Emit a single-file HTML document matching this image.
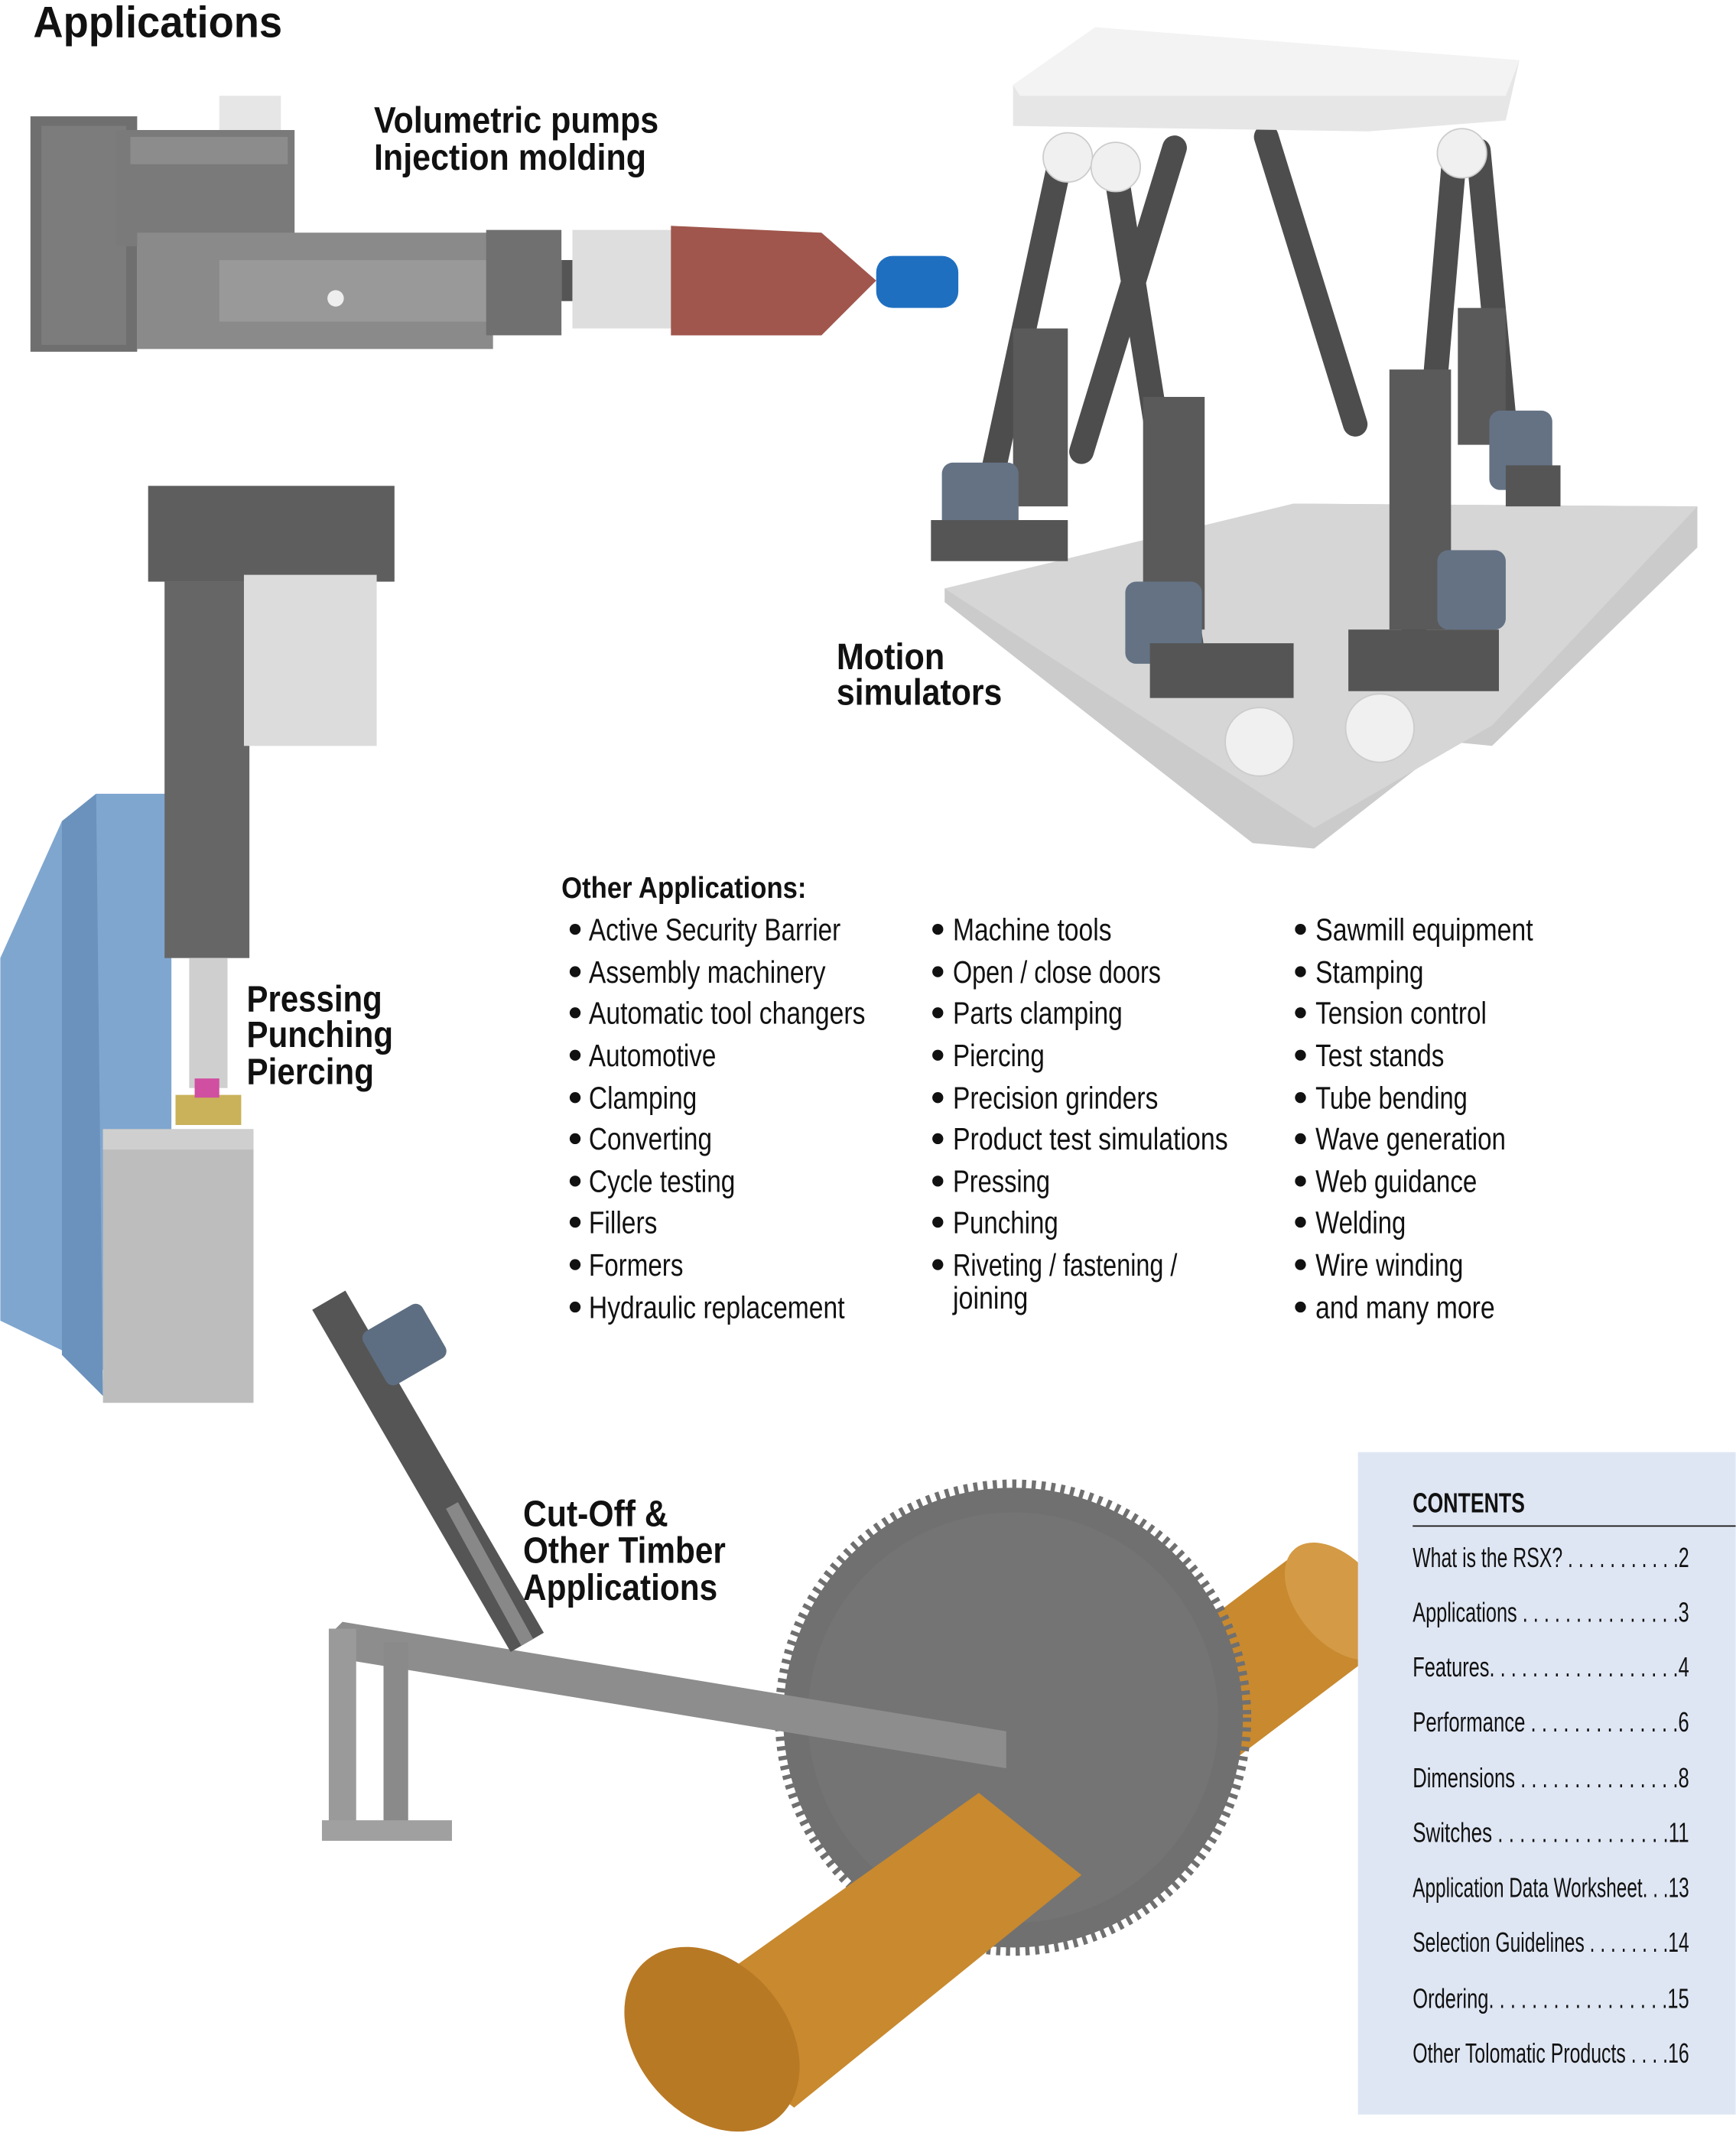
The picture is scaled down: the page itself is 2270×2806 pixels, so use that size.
<!DOCTYPE html>
<html><head><meta charset="utf-8"><style>
html,body{margin:0;padding:0;background:#fff;}
svg{display:block;}
text{font-family:"Liberation Sans Narrow","Liberation Sans",sans-serif;fill:#111;}
.b{font-weight:bold;}
</style></head><body>
<svg width="2270" height="2806" viewBox="0 0 1268 1568" xmlns="http://www.w3.org/2000/svg">
<rect width="1268" height="1568" fill="#fff"/>

<!-- Pump -->
<rect x="22" y="85" width="78" height="172" fill="#6f6f6f"/>
<rect x="30" y="92" width="62" height="160" fill="#7c7c7c"/>
<rect x="85" y="95" width="130" height="85" fill="#7a7a7a"/>
<rect x="95" y="100" width="115" height="20" fill="#8c8c8c"/>
<rect x="160" y="70" width="45" height="25" fill="#e6e6e6"/>
<rect x="100" y="170" width="260" height="85" fill="#8a8a8a"/>
<rect x="160" y="190" width="200" height="45" fill="#999"/>
<circle cx="245" cy="218" r="6" fill="#eee"/>
<rect x="355" y="168" width="55" height="77" fill="#707070"/>
<rect x="410" y="190" width="12" height="30" fill="#555"/>
<rect x="418" y="168" width="78" height="72" fill="#dedede"/>
<polygon points="490,165 600,170 640,205 600,245 490,245" fill="#a0564c"/>
<rect x="640" y="187" width="60" height="38" rx="12" fill="#1f6fc0"/>

<!-- Hexapod -->
<polygon points="690,430 945,368 1240,370 1240,400 1090,545 1060,542 960,620 915,616 690,440" fill="#cbcbcb"/>
<polygon points="690,430 945,368 1240,370 1090,530 960,605" fill="#d6d6d6"/>
<g stroke="#4d4d4d" stroke-width="18" stroke-linecap="round">
<line x1="775" y1="115" x2="720" y2="370"/>
<line x1="815" y1="125" x2="870" y2="470"/>
<line x1="858" y1="108" x2="790" y2="330"/>
<line x1="925" y1="100" x2="990" y2="310"/>
<line x1="1062" y1="120" x2="1032" y2="470"/>
<line x1="1080" y1="110" x2="1100" y2="320"/>
</g>
<g fill="#5a5a5a">
<rect x="740" y="240" width="40" height="130"/>
<rect x="835" y="290" width="45" height="170"/>
<rect x="1015" y="270" width="45" height="190"/>
<rect x="1065" y="225" width="35" height="100"/>
</g>
<g fill="#647284">
<rect x="688" y="338" width="56" height="60" rx="8"/>
<rect x="822" y="425" width="56" height="60" rx="8"/>
<rect x="1088" y="300" width="46" height="58" rx="8"/>
<rect x="1050" y="402" width="50" height="58" rx="8"/>
</g>
<g fill="#555">
<rect x="680" y="380" width="100" height="30"/>
<rect x="840" y="470" width="105" height="40"/>
<rect x="985" y="460" width="110" height="45"/>
<rect x="1100" y="340" width="40" height="30"/>
</g>
<g fill="#f0f0f0" stroke="#ccc">
<circle cx="780" cy="115" r="18"/><circle cx="815" cy="122" r="18"/><circle cx="1068" cy="112" r="18"/>
<circle cx="920" cy="542" r="25"/><circle cx="1008" cy="532" r="25"/>
</g>
<polygon points="740,62 800,20 1110,44 1100,88 1000,96 740,92" fill="#e6e6e6"/>
<polygon points="740,62 800,20 1110,44 1100,70 745,70" fill="#f3f3f3"/>

<!-- Press -->
<polygon points="0,700 45,600 70,580 125,580 125,1025 0,965" fill="#7fa6cf"/>
<polygon points="45,600 70,580 75,1020 45,990" fill="#6b92bd"/>
<rect x="75" y="825" width="110" height="200" fill="#bdbdbd"/>
<rect x="75" y="825" width="110" height="15" fill="#cfcfcf"/>
<rect x="108" y="355" width="180" height="70" fill="#5e5e5e"/>
<rect x="120" y="425" width="62" height="275" fill="#666"/>
<rect x="178" y="420" width="97" height="125" fill="#dcdcdc"/>
<rect x="138" y="700" width="28" height="95" fill="#cfcfcf"/>
<rect x="128" y="800" width="48" height="22" fill="#c9b25a"/>
<rect x="142" y="788" width="18" height="14" fill="#d04fa0"/>

<!-- Saw -->
<polygon points="940,1140 1015,1200 790,1370 715,1310" fill="#c8892f"/>
<ellipse cx="978" cy="1170" rx="30" ry="50" transform="rotate(-40 978 1170)" fill="#d49a45"/>
<circle cx="740" cy="1255" r="168" fill="#707070" stroke="#707070" stroke-width="12" stroke-dasharray="3 4"/>
<circle cx="740" cy="1255" r="150" fill="#747474"/>
<polygon points="240,1195 250,1185 735,1265 735,1292 248,1212" fill="#8d8d8d"/>
<polygon points="715,1310 790,1370 580,1540 490,1470" fill="#c8892f"/>
<ellipse cx="520" cy="1490" rx="55" ry="75" transform="rotate(-40 520 1490)" fill="#b87925"/>
<rect x="240" y="1190" width="20" height="150" fill="#9a9a9a"/>
<rect x="280" y="1200" width="18" height="140" fill="#8a8a8a"/>
<rect x="235" y="1330" width="95" height="15" fill="#a0a0a0"/>
<line x1="240" y1="950" x2="385" y2="1200" stroke="#555" stroke-width="28"/>
<rect x="270" y="960" width="50" height="45" rx="6" fill="#5e6e82" transform="rotate(-30 295 982)"/>
<line x1="330" y1="1100" x2="385" y2="1200" stroke="#888" stroke-width="10"/>

<!-- Contents box -->
<rect x="992" y="1061" width="276" height="484" fill="#dfe6f3"/>
<text x="1032" y="1105" class="b" font-size="20" textLength="82" lengthAdjust="spacingAndGlyphs">CONTENTS</text>
<line x1="1032" y1="1115" x2="1268" y2="1115" stroke="#111" stroke-width="1"/>
<g font-size="20">
<text x="1032" y="1145" textLength="202" lengthAdjust="spacingAndGlyphs">What is the RSX? . . . . . . . . . . .2</text>
<text x="1032" y="1185" textLength="202" lengthAdjust="spacingAndGlyphs">Applications . . . . . . . . . . . . . . .3</text>
<text x="1032" y="1225" textLength="202" lengthAdjust="spacingAndGlyphs">Features. . . . . . . . . . . . . . . . . .4</text>
<text x="1032" y="1265" textLength="202" lengthAdjust="spacingAndGlyphs">Performance  . . . . . . . . . . . . . .6</text>
<text x="1032" y="1306" textLength="202" lengthAdjust="spacingAndGlyphs">Dimensions . . . . . . . . . . . . . . .8</text>
<text x="1032" y="1346" textLength="202" lengthAdjust="spacingAndGlyphs">Switches . . . . . . . . . . . . . . . .11</text>
<text x="1032" y="1386" textLength="202" lengthAdjust="spacingAndGlyphs">Application Data Worksheet. . .13</text>
<text x="1032" y="1426" textLength="202" lengthAdjust="spacingAndGlyphs">Selection Guidelines . . . . . . . .14</text>
<text x="1032" y="1467" textLength="202" lengthAdjust="spacingAndGlyphs">Ordering. . . . . . . . . . . . . . . . .15</text>
<text x="1032" y="1507" textLength="202" lengthAdjust="spacingAndGlyphs">Other Tolomatic Products  . . . .16</text>
</g>

<!-- Titles -->
<text x="24" y="27" class="b" font-size="32" textLength="182" lengthAdjust="spacingAndGlyphs">Applications</text>
<g class="b" font-size="27">
<text x="273" y="97" class="b" textLength="208" lengthAdjust="spacingAndGlyphs">Volumetric pumps</text>
<text x="273" y="124" class="b" textLength="199" lengthAdjust="spacingAndGlyphs">Injection molding</text>
<text x="611" y="489" class="b" textLength="79" lengthAdjust="spacingAndGlyphs">Motion</text>
<text x="611" y="515" class="b" textLength="121" lengthAdjust="spacingAndGlyphs">simulators</text>
<text x="180" y="739" class="b" textLength="99" lengthAdjust="spacingAndGlyphs">Pressing</text>
<text x="180" y="765" class="b" textLength="107" lengthAdjust="spacingAndGlyphs">Punching</text>
<text x="180" y="792" class="b" textLength="93" lengthAdjust="spacingAndGlyphs">Piercing</text>
<text x="382" y="1115" class="b" textLength="106" lengthAdjust="spacingAndGlyphs">Cut-Off &amp;</text>
<text x="382" y="1142" class="b" textLength="148" lengthAdjust="spacingAndGlyphs">Other Timber</text>
<text x="382" y="1169" class="b" textLength="142" lengthAdjust="spacingAndGlyphs">Applications</text>
</g>
<text x="410" y="656" class="b" font-size="22" textLength="179" lengthAdjust="spacingAndGlyphs">Other Applications:</text>

<!-- bullets -->
<g fill="#111">
<circle cx="420" cy="679" r="4"/><circle cx="420" cy="710" r="4"/><circle cx="420" cy="740" r="4"/><circle cx="420" cy="771" r="4"/><circle cx="420" cy="802" r="4"/><circle cx="420" cy="832" r="4"/><circle cx="420" cy="863" r="4"/><circle cx="420" cy="893" r="4"/><circle cx="420" cy="924" r="4"/><circle cx="420" cy="955" r="4"/>
<circle cx="685" cy="679" r="4"/><circle cx="685" cy="710" r="4"/><circle cx="685" cy="740" r="4"/><circle cx="685" cy="771" r="4"/><circle cx="685" cy="802" r="4"/><circle cx="685" cy="832" r="4"/><circle cx="685" cy="863" r="4"/><circle cx="685" cy="893" r="4"/><circle cx="685" cy="924" r="4"/>
<circle cx="950" cy="679" r="4"/><circle cx="950" cy="710" r="4"/><circle cx="950" cy="740" r="4"/><circle cx="950" cy="771" r="4"/><circle cx="950" cy="802" r="4"/><circle cx="950" cy="832" r="4"/><circle cx="950" cy="863" r="4"/><circle cx="950" cy="893" r="4"/><circle cx="950" cy="924" r="4"/><circle cx="950" cy="955" r="4"/>
</g>
<g font-size="23">
<text x="430" y="687" textLength="184" lengthAdjust="spacingAndGlyphs">Active Security Barrier</text>
<text x="430" y="718" textLength="173" lengthAdjust="spacingAndGlyphs">Assembly machinery</text>
<text x="430" y="748" textLength="202" lengthAdjust="spacingAndGlyphs">Automatic tool changers</text>
<text x="430" y="779" textLength="93" lengthAdjust="spacingAndGlyphs">Automotive</text>
<text x="430" y="810" textLength="79" lengthAdjust="spacingAndGlyphs">Clamping</text>
<text x="430" y="840" textLength="90" lengthAdjust="spacingAndGlyphs">Converting</text>
<text x="430" y="871" textLength="107" lengthAdjust="spacingAndGlyphs">Cycle testing</text>
<text x="430" y="901" textLength="50" lengthAdjust="spacingAndGlyphs">Fillers</text>
<text x="430" y="932" textLength="69" lengthAdjust="spacingAndGlyphs">Formers</text>
<text x="430" y="963" textLength="187" lengthAdjust="spacingAndGlyphs">Hydraulic replacement</text>

<text x="696" y="687" textLength="116" lengthAdjust="spacingAndGlyphs">Machine tools</text>
<text x="696" y="718" textLength="152" lengthAdjust="spacingAndGlyphs">Open / close doors</text>
<text x="696" y="748" textLength="124" lengthAdjust="spacingAndGlyphs">Parts clamping</text>
<text x="696" y="779" textLength="67" lengthAdjust="spacingAndGlyphs">Piercing</text>
<text x="696" y="810" textLength="150" lengthAdjust="spacingAndGlyphs">Precision grinders</text>
<text x="696" y="840" textLength="201" lengthAdjust="spacingAndGlyphs">Product test simulations</text>
<text x="696" y="871" textLength="71" lengthAdjust="spacingAndGlyphs">Pressing</text>
<text x="696" y="901" textLength="77" lengthAdjust="spacingAndGlyphs">Punching</text>
<text x="696" y="932" textLength="164" lengthAdjust="spacingAndGlyphs">Riveting / fastening /</text>
<text x="696" y="956" textLength="55" lengthAdjust="spacingAndGlyphs">joining</text>

<text x="961" y="687" textLength="159" lengthAdjust="spacingAndGlyphs">Sawmill equipment</text>
<text x="961" y="718" textLength="79" lengthAdjust="spacingAndGlyphs">Stamping</text>
<text x="961" y="748" textLength="125" lengthAdjust="spacingAndGlyphs">Tension control</text>
<text x="961" y="779" textLength="94" lengthAdjust="spacingAndGlyphs">Test stands</text>
<text x="961" y="810" textLength="111" lengthAdjust="spacingAndGlyphs">Tube bending</text>
<text x="961" y="840" textLength="139" lengthAdjust="spacingAndGlyphs">Wave generation</text>
<text x="961" y="871" textLength="118" lengthAdjust="spacingAndGlyphs">Web guidance</text>
<text x="961" y="901" textLength="66" lengthAdjust="spacingAndGlyphs">Welding</text>
<text x="961" y="932" textLength="108" lengthAdjust="spacingAndGlyphs">Wire winding</text>
<text x="961" y="963" textLength="131" lengthAdjust="spacingAndGlyphs">and many more</text>
</g>
</svg>
</body></html>
